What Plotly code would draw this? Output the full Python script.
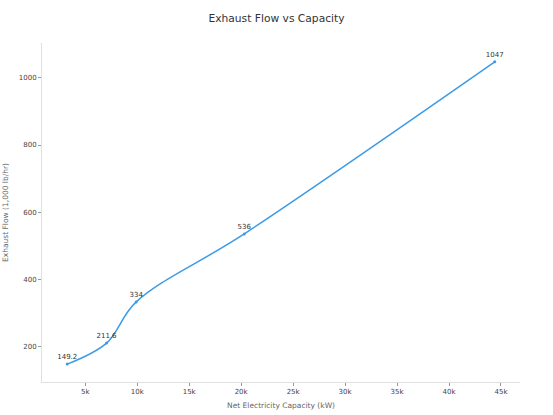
import plotly.graph_objects as go

capacity_kw = [3270, 7050, 9900, 20300, 44400]
exhaust_flow = [149.2, 211.6, 334, 536, 1047]
point_labels = ["149.2", "211.6", "334", "536", "1047"]

fig = go.Figure()

fig.add_trace(go.Scatter(
    x=capacity_kw,
    y=exhaust_flow,
    mode='lines+markers+text',
    text=point_labels,
    textposition='top center',
    textfont=dict(family='DejaVu Sans', size=7, color='#333333'),
    line=dict(color='#3d9be6', width=1.5, shape='spline'),
    marker=dict(color='#3d9be6', size=3),
    hoverinfo='x+y',
    showlegend=False
))

fig.update_layout(
    width=553,
    height=415,
    margin=dict(l=42, r=33, t=43, b=33),
    paper_bgcolor='white',
    plot_bgcolor='white',
    font=dict(family='DejaVu Sans', size=7, color='#444444'),
    title=dict(
        text='Exhaust Flow vs Capacity',
        x=0.5,
        xanchor='center',
        y=0.9566,
        yanchor='middle',
        font=dict(family='DejaVu Sans', size=10.7, color='#333333')
    ),
    xaxis=dict(
        title=dict(text='Net Electricity Capacity (kW)', font=dict(size=7.5, color='#666666'), standoff=7),
        range=[840, 46830],
        tickvals=[5000, 10000, 15000, 20000, 25000, 30000, 35000, 40000, 45000],
        ticktext=['5k', '10k', '15k', '20k', '25k', '30k', '35k', '40k', '45k'],
        showgrid=False,
        zeroline=False,
        showline=True,
        linecolor='#e0e0e0',
        linewidth=1,
        ticks='outside',
        ticklen=3,
        tickcolor='#999999',
        automargin=False
    ),
    yaxis=dict(
        title=dict(text='Exhaust Flow (1,000 lb/hr)', font=dict(size=7.5, color='#666666'), standoff=9),
        range=[96, 1103],
        tickvals=[200, 400, 600, 800, 1000],
        showgrid=False,
        zeroline=False,
        showline=True,
        linecolor='#e0e0e0',
        linewidth=1,
        ticks='outside',
        ticklen=3,
        tickcolor='#999999',
        automargin=False
    )
)

# drop the default page margin so the figure sits at the window's top-left
fig.write_html(
    "out.html",
    config={'displayModeBar': False},
    post_script="document.body.style.margin='0';"
)
